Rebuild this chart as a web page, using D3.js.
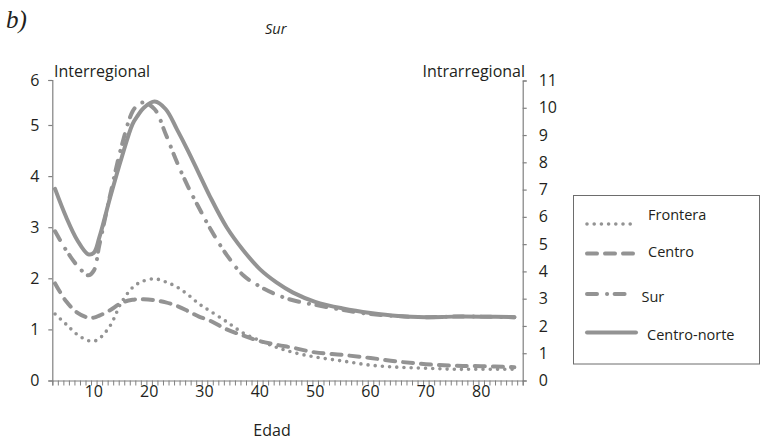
<!DOCTYPE html>
<html>
<head>
<meta charset="utf-8">
<script src="https://cdn.jsdelivr.net/npm/d3@7"></script>
<style>
  html, body { margin: 0; padding: 0; background: #fff; }
  svg { display: block; }
  text { font-family: "Open Sans", "Noto Sans", sans-serif; fill: #231f20; }
</style>
</head>
<body>
<svg id="chart" width="774" height="442"></svg>
<script>
// ---- data (values in Interregional axis units) ----
const ages        = [3, 5, 7, 9, 10, 11, 13, 15, 17, 18, 19, 21, 23, 25, 27, 29, 31, 34, 37, 40, 43, 46, 50, 55, 60, 65, 70, 75, 80, 86];
const frontera    = [1.30, 1.10, 0.90, 0.78, 0.77, 0.82, 1.08, 1.53, 1.82, 1.90, 1.95, 1.99, 1.93, 1.83, 1.68, 1.50, 1.36, 1.15, 0.93, 0.78, 0.65, 0.55, 0.46, 0.38, 0.30, 0.26, 0.24, 0.22, 0.22, 0.22];
const centro      = [1.90, 1.55, 1.33, 1.23, 1.23, 1.27, 1.38, 1.52, 1.58, 1.59, 1.59, 1.57, 1.53, 1.46, 1.36, 1.25, 1.17, 1.00, 0.88, 0.77, 0.70, 0.64, 0.55, 0.50, 0.44, 0.37, 0.32, 0.29, 0.28, 0.26];
const sur         = [2.92, 2.55, 2.25, 2.06, 2.15, 2.65, 3.65, 4.58, 5.30, 5.45, 5.50, 5.35, 4.82, 4.28, 3.80, 3.38, 2.98, 2.46, 2.06, 1.84, 1.68, 1.57, 1.48, 1.38, 1.30, 1.26, 1.24, 1.25, 1.25, 1.24];
const centroNorte = [3.75, 3.20, 2.75, 2.47, 2.50, 2.80, 3.60, 4.35, 5.02, 5.22, 5.38, 5.52, 5.35, 4.92, 4.50, 4.05, 3.60, 3.00, 2.55, 2.18, 1.92, 1.72, 1.54, 1.41, 1.32, 1.26, 1.24, 1.25, 1.25, 1.24];

const seriesNames = ["Frontera", "Centro", "Sur", "Centro-norte"];
const seriesValues = [frontera, centro, sur, centroNorte];

const leftTicks  = [0, 1, 2, 3, 4, 5, 6];
const rightTicks = [0, 1, 2, 3, 4, 5, 6, 7, 8, 9, 10, 11];
const xLabels    = [10, 20, 30, 40, 50, 60, 70, 80];

// ---- styles ----
const grey = "#939393";
const axisGrey = "#808080";
const styles = {
  "Frontera":     { width: 3.6, dash: "0 7.2" },
  "Centro":       { width: 4,   dash: "10 8" },
  "Sur":          { width: 4,   dash: "10 10 0.1 7.5" },
  "Centro-norte": { width: 4,   dash: null }
};

const svg = d3.select("#chart");

const x  = d3.scaleLinear().domain([2.5, 87.5]).range([52.3, 522.7]);
const yL = d3.scaleLinear().domain([0, 5, 6]).range([380.5, 125, 80]);
const yR = d3.scaleLinear().domain([0, 11]).range([380.5, 80.5]);

// ---- curves ----
const line = d3.line()
  .x(d => x(d[0]))
  .y(d => yL(d[1]))
  .curve(d3.curveCatmullRom.alpha(0.5));

seriesNames.forEach((name, i) => {
  const st = styles[name];
  svg.append("path")
    .datum(ages.map((a, j) => [a, seriesValues[i][j]]))
    .attr("fill", "none")
    .attr("stroke", grey)
    .attr("stroke-width", st.width)
    .attr("stroke-linecap", "round")
    .attr("stroke-linejoin", "round")
    .attr("stroke-dasharray", st.dash)
    .attr("d", line);
});

// ---- left axis ----
const gL = svg.append("g").attr("transform", "translate(52.3,0)")
  .call(d3.axisLeft(yL).tickValues(leftTicks).tickSize(4).tickPadding(9).tickFormat(d3.format("d")));
gL.select(".domain").attr("stroke", axisGrey).attr("stroke-width", 1.2);
gL.selectAll(".tick line").attr("stroke", axisGrey).attr("stroke-width", 1.2);
gL.selectAll(".tick text").style("font-size", "16px").style("font-family", "'Open Sans', sans-serif").attr("fill", "#231f20");

// ---- right axis ----
const gR = svg.append("g").attr("transform", "translate(522.7,0)")
  .call(d3.axisRight(yR).tickValues(rightTicks).tickSize(4).tickPadding(12).tickFormat(d3.format("d")));
gR.select(".domain").attr("stroke", axisGrey).attr("stroke-width", 1.2);
gR.selectAll(".tick line").attr("stroke", axisGrey).attr("stroke-width", 1.2);
gR.selectAll(".tick text").style("font-size", "16px").style("font-family", "'Open Sans', sans-serif").attr("fill", "#231f20");

// ---- x axis (minor ticks at category boundaries) ----
const gX = svg.append("g").attr("transform", "translate(0,380.5)")
  .call(d3.axisBottom(x).tickValues(d3.range(2.5, 88, 1)).tickSize(5).tickFormat(""));
gX.select(".domain").attr("stroke", axisGrey).attr("stroke-width", 1.2);
gX.selectAll(".tick line").attr("stroke", axisGrey).attr("stroke-width", 1);

svg.append("g").selectAll("text").data(xLabels).join("text")
  .attr("x", d => x(d))
  .attr("y", 397)
  .attr("text-anchor", "middle")
  .style("font-size", "16px")
  .text(d => d);

// ---- titles ----
svg.append("text").attr("x", 272).attr("y", 436).attr("text-anchor", "middle")
  .style("font-size", "16px").text("Edad");
svg.append("text").attr("x", 54).attr("y", 76.5)
  .style("font-size", "16px").text("Interregional");
svg.append("text").attr("x", 525).attr("y", 76.5).attr("text-anchor", "end")
  .style("font-size", "16px").text("Intrarregional");
svg.append("text").attr("x", 6).attr("y", 28)
  .style("font-family", "'Liberation Serif', serif").style("font-style", "italic")
  .style("font-size", "25px").text("b)");
svg.append("text").attr("x", 265).attr("y", 33.5)
  .style("font-style", "italic").style("font-size", "14.5px").text("Sur");

// ---- legend ----
const legend = svg.append("g");
legend.append("rect")
  .attr("x", 573.5).attr("y", 195.5).attr("width", 186).attr("height", 168.5)
  .attr("fill", "none").attr("stroke", "#6d6d6d").attr("stroke-width", 1);

const legY    = [224, 253.5, 294, 332.5];
const legText = [219.5, 256.5, 301.5, 340];
const legTx   = [648, 648, 641.5, 647];
seriesNames.forEach((name, i) => {
  const st = styles[name];
  legend.append("line")
    .attr("x1", 587).attr("x2", name === "Centro-norte" ? 636 : 634)
    .attr("y1", legY[i]).attr("y2", legY[i])
    .attr("stroke", grey)
    .attr("stroke-width", st.width)
    .attr("stroke-linecap", "round")
    .attr("stroke-dasharray", st.dash);
  legend.append("text")
    .attr("x", legTx[i]).attr("y", legText[i])
    .style("font-size", "14.5px")
    .text(name);
});
</script>
</body>
</html>
